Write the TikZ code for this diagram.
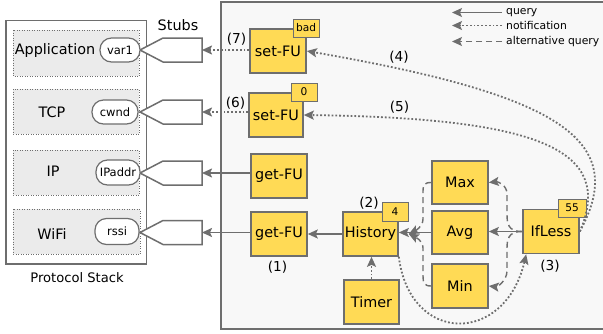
\documentclass[tikz,border=0pt]{standalone}
\usepackage{fontspec}
\setmainfont{DejaVu Sans}
\usetikzlibrary{arrows.meta,calc}
\definecolor{fu}{HTML}{FFDA55}
\definecolor{edgec}{HTML}{6E6E6E}
\definecolor{panelbg}{HTML}{F8F8F8}
\definecolor{layerbg}{HTML}{EBEBEB}
\begin{document}
\begin{tikzpicture}[x=1pt,y=1pt,
  font=\fontsize{14.4}{16}\selectfont,
  fubox/.style={draw=edgec, line width=1.6pt, fill=fu, minimum width=56pt, minimum height=44pt, inner sep=0pt},
  tag/.style={draw=edgec, line width=0.9pt, fill=fu, font=\fontsize{10.6}{12}\selectfont, minimum width=26pt, minimum height=18pt, inner sep=1pt},
  pill/.style={draw=edgec, line width=1.2pt, fill=white, rounded corners=11.5pt, minimum height=24pt, inner sep=1pt, font=\fontsize{11.5}{13}\selectfont},
  layer/.style={draw=edgec, line width=0.5pt, dotted, fill=layerbg},
  stubshape/.style={draw=edgec, line width=1.5pt, fill=white, line join=miter},
  lab/.style={font=\fontsize{13.7}{15}\selectfont},
  legtext/.style={font=\fontsize{10.8}{12}\selectfont, anchor=west, inner sep=0pt},
  query/.style={draw=edgec, line width=1.8pt, -{Stealth[length=10pt,width=9pt,inset=2pt]}},
  notif/.style={draw=edgec, line width=1.8pt, dotted, -{Stealth[length=10pt,width=9pt,inset=2pt]}},
  altq/.style={draw=edgec, line width=1.4pt, dash pattern=on 6pt off 4pt, -{Stealth[length=10pt,width=9pt,inset=2pt]}},
  legq/.style={query, line width=1.2pt},
  legn/.style={notif, line width=1.2pt},
  lega/.style={altq, line width=1.2pt},
]
\clip (0,0) rectangle (603,-333);
\fill[white] (0,0) rectangle (603,-333);

% right panel
\draw[draw=edgec, line width=1.8pt, fill=panelbg] (221,-2) rectangle (615,-329);

% protocol stack
\draw[draw=edgec, line width=1.5pt, fill=white] (6,-20.5) rectangle (146.5,-264);
\node (pslabel) at (77,-278) {\fontsize{13.1}{15}\selectfont Protocol Stack};
\node (stubslabel) at (178,-25) {Stubs};

\draw[layer] (13,-30) rectangle (139,-76);
\draw[layer] (13,-89) rectangle (139,-134);
\draw[layer] (13,-150) rectangle (139,-195);
\draw[layer] (13,-209) rectangle (140,-254);

\node (lapp) at (55,-51) {Application};
\node (ltcp) at (52,-112) {TCP};
\node (lip) at (53,-171) {IP};
\node (lwifi) at (52,-234) {WiFi};

% stubs
\foreach \n/\yy in {1/-50, 2/-112, 3/-173, 4/-232.5}{
  \draw[stubshape] (140,\yy) -- (163,\yy+12) -- (202,\yy+12) -- (202,\yy-12) -- (163,\yy-12) -- cycle;
  \coordinate (stub\n) at (202,\yy);
}

% pills
\node[pill, minimum width=40pt] (var1) at (120,-50) {var1};
\node[pill, minimum width=46pt] (cwnd) at (115,-112) {cwnd};
\node[pill, minimum width=44pt, minimum height=25pt] (ipaddr) at (118,-172.5) {IPaddr};
\node[pill, minimum width=44pt, minimum height=26pt] (rssi) at (117,-231.5) {rssi};

% function units
\node[fubox] (set7) at (278,-51) {set-FU};
\node[fubox, minimum width=54pt] (set6) at (276,-115) {set-FU};
\node[fubox] (getip) at (279,-176) {get-FU};
\node[fubox] (getwifi) at (279,-234) {get-FU};
\node[fubox, minimum width=55pt] (hist) at (370.5,-234) {History};
\node[fubox, minimum width=55pt] (timer) at (371.5,-302) {Timer};
\node[fubox, minimum height=43pt] (max) at (460,-182.5) {Max};
\node[fubox, minimum height=43pt] (avg) at (460,-232.5) {Avg};
\node[fubox] (min) at (460,-286) {Min};
\node[fubox] (ifless) at (551,-231.5) {IfLess};

% tags
\node[tag] (tbad) at (306,-28) {bad};
\node[tag] (t0) at (304,-92) {0};
\node[tag, minimum height=19pt] (t4) at (395,-211.5) {4};
\node[tag, minimum width=28pt] (t55) at (572,-208) {55};

% labels
\node[lab] (l7) at (236.5,-39) {(7)};
\node[lab] (l6) at (235.5,-103) {(6)};
\node[lab] (l4) at (399,-57) {(4)};
\node[lab] (l5) at (399.5,-107) {(5)};
\node[lab] (l1) at (277.5,-267) {(1)};
\node[lab] (l2) at (369,-203) {(2)};
\node[lab] (l3) at (550,-266) {(3)};

% connectors to stubs
\draw[notif] (set7.west |- stub1) -- (stub1);
\draw[notif] (set6.west |- stub2) -- (stub2);
\draw[query] (getip.west |- stub3) -- (stub3);
\draw[query] (getwifi.west |- stub4) -- (stub4);

% chain
\draw[query] (hist.west) -- (getwifi.east);
\draw[query] (avg.west) -- (avg.west -| hist.east);
\draw[query] (ifless.west) -- (ifless.west -| avg.east);
\draw[notif] (timer.north) -- (timer.north |- hist.south);

% alternative queries
\draw[altq] (ifless.west) .. controls +(-14,0) and +(0,-10) .. (507,-214) -- (507,-194) .. controls +(0,9) and +(9,1) .. (max.east);
\draw[altq] (ifless.west) .. controls +(-14,0) and +(0,10) .. (507,-249) -- (507,-271) .. controls +(0,-9) and +(9,-1) .. (min.east);
\draw[altq] (max.west) .. controls +(-7,0) and +(0,7) .. (423,-192) -- (423,-219) .. controls +(0,-8) and +(6,3) .. ([xshift=10pt]hist.east);
\draw[altq] (min.west) .. controls +(-7,0) and +(0,-7) .. (423,-276) -- (423,-248) .. controls +(0,8) and +(6,-3) .. ([xshift=10pt]hist.east);

% notifications
\draw[notif] (hist.south east) .. controls (410,-345) and (505,-345) .. ([xshift=4pt]ifless.south west);
\draw[notif] (ifless.east) .. controls (630,-140) and (560,-95) .. (set7.east);
\draw[notif] (ifless.east) .. controls (615,-150) and (540,-118) .. (set6.east);

% legend
\node[legtext] (lgq) at (506,-12.5) {query};
\node[legtext] (lgn) at (506,-25.5) {notification};
\node[legtext] (lga) at (506,-41.5) {alternative query};
\draw[legq] ([xshift=-4pt]lgq.west) -- ++(-50,0);
\draw[legn] ([xshift=-4pt]lgn.west) -- ++(-50,0);
\draw[lega] ([xshift=-4pt]lga.west) -- ++(-50,0);
\end{tikzpicture}
\end{document}
